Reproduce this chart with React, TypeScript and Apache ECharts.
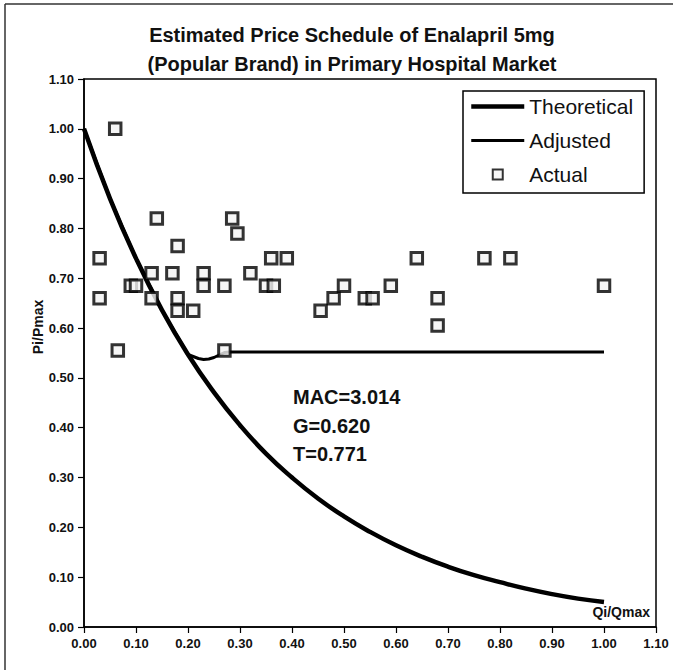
import React, { useEffect, useRef } from "react";
import * as echarts from "echarts";

// Axis ticks (both axes share the same 0.00 – 1.10 scale)
const axisMin = 0;
const axisMax = 1.1;
const axisStep = 0.1;

// Theoretical price schedule, Pi/Pmax against Qi/Qmax
const theoQ = [0, 0.05, 0.1, 0.15, 0.2, 0.25, 0.3, 0.35, 0.4, 0.45, 0.5, 0.55, 0.6, 0.65, 0.7, 0.75, 0.8, 0.85, 0.9, 0.95, 1.0];
const theoP = [1.0, 0.86, 0.74, 0.636, 0.547, 0.471, 0.405, 0.348, 0.3, 0.258, 0.222, 0.191, 0.164, 0.141, 0.121, 0.104, 0.09, 0.077, 0.066, 0.057, 0.05];

// Adjusted schedule: follows the theoretical curve, then levels off
const adjQ = [0, 0.05, 0.1, 0.15, 0.2, 0.21, 0.22, 0.23, 0.24, 0.25, 0.26, 0.27, 0.28, 1.0];
const adjP = [1.0, 0.86, 0.74, 0.636, 0.547, 0.543, 0.539, 0.537, 0.538, 0.541, 0.546, 0.551, 0.552, 0.552];

// Actual observed prices
const actualQ = [0.06, 0.03, 0.03, 0.065, 0.14, 0.18, 0.13, 0.17, 0.09, 0.1, 0.13, 0.18, 0.18, 0.21, 0.23, 0.23, 0.27, 0.285, 0.295, 0.27, 0.32, 0.35, 0.365, 0.36, 0.39, 0.455, 0.48, 0.5, 0.54, 0.555, 0.59, 0.64, 0.68, 0.68, 0.77, 0.82, 1.0];
const actualP = [1.0, 0.74, 0.66, 0.555, 0.82, 0.765, 0.71, 0.71, 0.685, 0.685, 0.66, 0.66, 0.635, 0.635, 0.71, 0.685, 0.685, 0.82, 0.79, 0.555, 0.71, 0.685, 0.685, 0.74, 0.74, 0.635, 0.66, 0.685, 0.66, 0.66, 0.685, 0.74, 0.66, 0.605, 0.74, 0.74, 0.685];

const titleLines = ["Estimated Price Schedule of Enalapril 5mg", "(Popular Brand) in Primary Hospital Market"];
const statLines = ["MAC=3.014", "G=0.620", "T=0.771"];

const FONT = "'Liberation Sans', Arial, Helvetica, sans-serif";
const INK = "#111";
const THEO_WIDTH = 4.5;
const ADJ_WIDTH = 3;

const zip = (xs: number[], ys: number[]) => xs.map((x, i) => [x, ys[i]]);

export default function App() {
  const ref = useRef<HTMLDivElement>(null);

  useEffect(() => {
    if (!ref.current) return;
    const chart = echarts.init(ref.current, undefined, { renderer: "svg" });

    const axisCommon = {
      type: "value" as const,
      min: axisMin,
      max: axisMax,
      interval: axisStep,
      axisLine: { show: true, lineStyle: { color: "#000", width: 1.5 } },
      axisTick: { show: true, inside: false, length: 6, lineStyle: { color: "#000", width: 1.2 } },
      splitLine: { show: false },
      axisLabel: {
        formatter: (v: number) => v.toFixed(2),
        fontFamily: FONT,
        fontWeight: "bold" as const,
        fontSize: 13,
        color: INK,
        margin: 10,
      },
    };

    chart.setOption({
      animation: false,
      backgroundColor: "#fff",
      grid: {
        left: 84,
        right: 17,
        top: 79,
        bottom: 43,
        show: true,
        borderColor: "#000",
        borderWidth: 1.5,
        backgroundColor: "transparent",
      },
      xAxis: { ...axisCommon },
      yAxis: { ...axisCommon },
      legend: {
        left: 463,
        top: 91,
        orient: "vertical",
        padding: [4, 11, 7, 6],
        itemGap: 11,
        itemWidth: 53,
        itemHeight: 10,
        backgroundColor: "#fff",
        borderColor: "#000",
        borderWidth: 1.5,
        textStyle: { fontFamily: FONT, fontSize: 21, color: INK, lineHeight: 23 },
        data: [
          { name: "Theoretical", itemStyle: { opacity: 0 }, lineStyle: { width: THEO_WIDTH, color: "#000" } },
          { name: "Adjusted", itemStyle: { opacity: 0 }, lineStyle: { width: ADJ_WIDTH, color: "#000" } },
          { name: "Actual", icon: "path://M0,0H10V10H0Z" },
        ],
      },
      graphic: [
        // outer frame edges
        { type: "line", shape: { x1: 5, y1: 4, x2: 673, y2: 4 }, style: { stroke: "#333", lineWidth: 1.5 } },
        { type: "line", shape: { x1: 5, y1: 4, x2: 5, y2: 670 }, style: { stroke: "#333", lineWidth: 1.5 } },
        ...titleLines.map((t, i) => ({
          type: "text",
          x: 352,
          y: 35 + i * 29,
          style: {
            text: t,
            fontFamily: FONT,
            fontWeight: "bold",
            fontSize: 20,
            fill: INK,
            align: "center",
            verticalAlign: "middle",
          },
        })),
        ...statLines.map((t, i) => ({
          type: "text",
          x: 293,
          y: 397 + i * 28.5,
          style: {
            text: t,
            fontFamily: FONT,
            fontWeight: "bold",
            fontSize: 20,
            fill: INK,
            align: "left",
            verticalAlign: "middle",
          },
        })),
        {
          type: "text",
          x: 38,
          y: 327,
          rotation: Math.PI / 2,
          style: {
            text: "Pi/Pmax",
            fontFamily: FONT,
            fontWeight: "bold",
            fontSize: 14,
            fill: INK,
            align: "center",
            verticalAlign: "middle",
          },
        },
        {
          type: "text",
          x: 650,
          y: 612,
          style: {
            text: "Qi/Qmax",
            fontFamily: FONT,
            fontWeight: "bold",
            fontSize: 14,
            fill: INK,
            align: "right",
            verticalAlign: "middle",
          },
        },
      ],
      series: [
        {
          name: "Theoretical",
          type: "line",
          data: zip(theoQ, theoP),
          smooth: true,
          showSymbol: false,
          symbol: "none",
          lineStyle: { color: "#000", width: THEO_WIDTH },
          itemStyle: { color: "#000" },
          z: 3,
        },
        {
          name: "Adjusted",
          type: "line",
          data: zip(adjQ, adjP),
          smooth: false,
          showSymbol: false,
          symbol: "none",
          lineStyle: { color: "#000", width: ADJ_WIDTH, join: "round" },
          itemStyle: { color: "#000" },
          z: 3,
        },
        {
          name: "Actual",
          type: "scatter",
          data: zip(actualQ, actualP),
          symbol: "rect",
          symbolSize: 11.5,
          itemStyle: { color: "#f4f4f4", borderColor: "#000", borderWidth: 3 },
          z: 4,
        },
      ],
    });

    return () => chart.dispose();
  }, []);

  return (
    <div
      ref={ref}
      style={{ position: "fixed", left: 0, top: 0, width: 673, height: 670, background: "#fff" }}
    />
  );
}
